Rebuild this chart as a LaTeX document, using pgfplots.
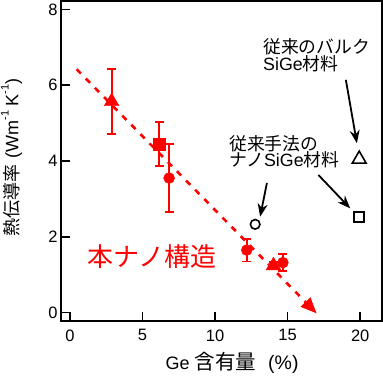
\documentclass[border=0pt]{standalone}
\usepackage{fontspec}
\setmainfont{Liberation Sans}
\newfontfamily\jp{Noto Sans CJK JP}
\usepackage{pgfplots}
\pgfplotsset{compat=1.18}
\usetikzlibrary{arrows.meta,calc}
\newcommand{\mysup}[1]{\raisebox{0.55em}{\fontsize{11}{11}\selectfont #1}}

\begin{document}
\begin{tikzpicture}
\begin{axis}[
  scale only axis, width=321pt, height=320pt,
  xmin=-0.62, xmax=21.5, ymin=-0.22, ymax=8.22,
  xtick={0,5,10,15,20}, ytick={0,2,4,6,8},
  tick align=inside, xtick pos=left, ytick pos=left,
  major tick length=9pt,
  axis line style={line width=1.6pt},
  every tick/.style={black, line width=1.6pt},
  tick label style={font=\fontsize{16.5}{16.5}\selectfont},
  /pgf/number format/assume math mode=true,
  xticklabel style={yshift=-5pt},
  clip=false,
  label style={font=\fontsize{18}{18}\selectfont},
  xlabel={Ge {\jp\fontsize{20.5}{20.5}\selectfont 含有量}\hspace{12pt}{\fontsize{19.5}{19.5}\selectfont(\%)}},
  ylabel={{\jp\fontsize{18}{18}\selectfont 熱伝導率}\hspace{6pt}(Wm\mysup{-1}\hspace{4pt}K\mysup{-1})},
  xlabel style={at={(rel axis cs:0.533,-0.131)}, anchor=center},
  ylabel style={at={(rel axis cs:-0.154,0.511)}, anchor=center},
]
% dashed trend arrow
\addplot[red, line width=2.6pt, dash pattern=on 6pt off 7pt,
  -{Triangle[length=16pt,width=13pt]}] coordinates {(0.46,6.42) (17.0,-0.02)};

% red data with error bars
\addplot[red, only marks, mark=triangle*, mark size=8.5pt,
  error bars/.cd, y dir=both, y explicit,
  error bar style={line width=1.8pt, red},
  error mark options={rotate=90, mark size=4.5pt, line width=1.8pt, red}]
  coordinates {(2.87,5.57) +- (0,0.86) (14.02,1.24) +- (0,0.1)};
\addplot[red, only marks, mark=square*, mark size=5.8pt,
  error bars/.cd, y dir=both, y explicit,
  error bar style={line width=1.8pt, red},
  error mark options={rotate=90, mark size=4.5pt, line width=1.8pt, red}]
  coordinates {(6.16,4.44) +- (0,0.58)};
\addplot[red, only marks, mark=*, mark size=5.5pt,
  error bars/.cd, y dir=both, y explicit,
  error bar style={line width=1.8pt, red},
  error mark options={rotate=90, mark size=4.5pt, line width=1.8pt, red}]
  coordinates {(6.83,3.55) +- (0,0.9) (12.18,1.65) +- (0,0.3) (14.67,1.32) +- (0,0.23)};

% open black markers
\addplot[black, only marks, mark=o, mark size=4.8pt, mark options={line width=1.6pt}]
  coordinates {(12.76,2.33)};
\addplot[black, only marks, mark=square, mark size=5pt, mark options={line width=1.6pt}]
  coordinates {(19.9,2.52)};
\addplot[black, only marks, mark=triangle, mark size=8pt, mark options={line width=1.6pt}]
  coordinates {(19.93,4.05)};

% annotation arrows
\draw[-{Stealth[length=13pt,width=10pt]}, line width=1.8pt]
  (axis cs:19.01,6.14) -- (axis cs:19.77,4.47);
\draw[-{Stealth[length=13pt,width=10pt]}, line width=1.8pt]
  (axis cs:17.12,3.63) -- (axis cs:19.31,2.75);
\draw[-{Stealth[length=13pt,width=10pt]}, line width=1.8pt]
  (axis cs:13.57,3.42) -- (axis cs:13.1,2.53);

% texts
\node[anchor=base west, inner sep=0, font=\jp\fontsize{17.8}{18}\selectfont]
  at (axis cs:13.3,6.84) {従来のバルク};
\node[anchor=base west, inner sep=0, font=\fontsize{17.8}{18}\selectfont]
  at (axis cs:13.3,6.40) {SiGe{\jp 材料}};
\node[anchor=base west, inner sep=0, font=\jp\fontsize{17.8}{18}\selectfont]
  at (axis cs:10.97,4.29) {従来手法の};
\node[anchor=base west, inner sep=0, font=\fontsize{17.8}{18}\selectfont]
  at (axis cs:10.97,3.85) {{\jp ナノ}SiGe{\jp 材料}};
\node[anchor=base west, inner sep=0, text=red, font=\jp\fontsize{26}{26}\selectfont]
  at (axis cs:1.2,1.21) {本ナノ構造};
\end{axis}
\pgfresetboundingbox
\path ($(current axis.south west)+(-61pt,-55pt)$) rectangle ($(current axis.north east)+(1pt,1pt)$);
\end{tikzpicture}
\end{document}
